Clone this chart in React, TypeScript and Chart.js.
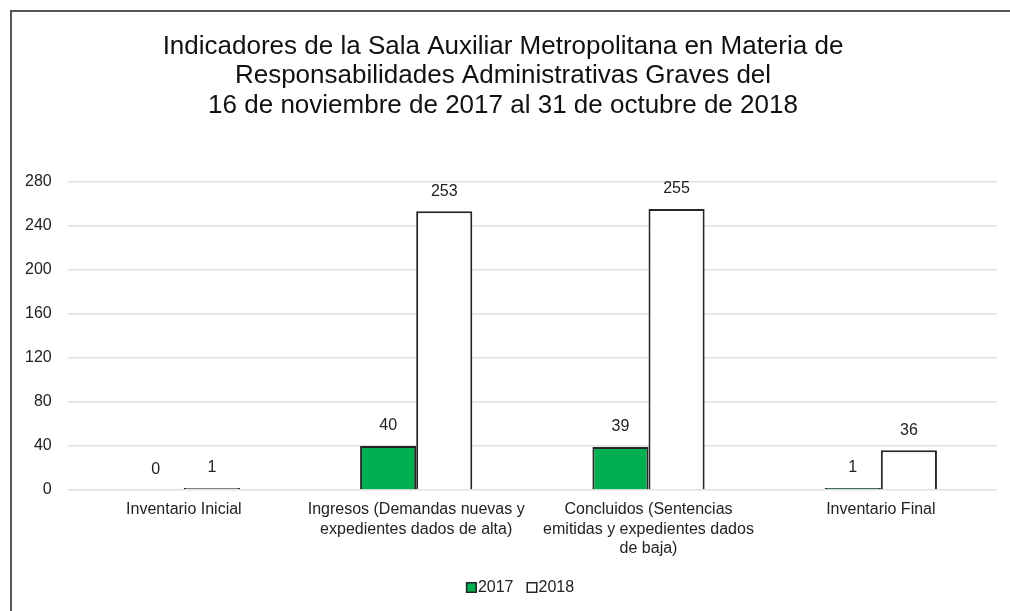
import React, { useEffect, useRef } from "react";
import { Chart, registerables } from "chart.js";

Chart.register(...registerables);

const titleLines = [
  "Indicadores de la Sala Auxiliar Metropolitana en Materia de",
  "Responsabilidades Administrativas Graves del",
  "16 de noviembre de 2017 al 31 de octubre de 2018",
];
const categories = [
  ["Inventario Inicial"],
  ["Ingresos (Demandas nuevas y", "expedientes dados de alta)"],
  ["Concluidos (Sentencias", "emitidas y expedientes dados", "de baja)"],
  ["Inventario Final"],
];
const seriesNames = ["2017", "2018"];
const values2017 = [0, 40, 39, 1];
const values2018 = [1, 253, 255, 36];
const yTicks = [0, 40, 80, 120, 160, 200, 240, 280];

const FONT = "'Liberation Sans', Arial, sans-serif";

const framePlugin = {
  id: "frame",
  beforeDraw(chart: any) {
    const ctx = chart.ctx;
    ctx.save();
    ctx.fillStyle = "#ffffff";
    ctx.fillRect(0, 0, chart.width, chart.height);
    ctx.fillStyle = "#555555";
    ctx.fillRect(10, 10, 2, chart.height - 10);
    ctx.fillRect(10, 10, chart.width - 10, 2);
    ctx.restore();
  },
};

const valueLabelPlugin = {
  id: "valueLabels",
  afterDatasetsDraw(chart: any) {
    const ctx = chart.ctx;
    const sources = [values2017, values2018];
    ctx.save();
    ctx.font = `16px ${FONT}`;
    ctx.fillStyle = "#222222";
    ctx.textAlign = "center";
    ctx.textBaseline = "middle";
    const base = chart.scales.y.getPixelForValue(0);
    chart.data.datasets.forEach((_ds: any, di: number) => {
      const meta = chart.getDatasetMeta(di);
      meta.data.forEach((bar: any, i: number) => {
        const v = sources[di][i];
        const top = v === 0 || !isFinite(bar.y) ? base : bar.y;
        ctx.fillText(String(v), bar.x, top - 20);
      });
    });
    ctx.restore();
  },
};

const customLegendPlugin = {
  id: "customLegend",
  afterDraw(chart: any) {
    const ctx = chart.ctx;
    ctx.save();
    ctx.font = `16px ${FONT}`;
    ctx.textBaseline = "middle";
    ctx.textAlign = "left";
    const ds = chart.data.datasets;
    const box = 11;
    const gapBoxText = 1;
    const gapItems = 13;
    const widths = ds.map((d: any) => ctx.measureText(d.label).width);
    let total = 0;
    widths.forEach((w: number, i: number) => {
      total += box + gapBoxText + w + (i < widths.length - 1 ? gapItems : 0);
    });
    const cy = 587.5;
    let x = 520 - total / 2;
    ds.forEach((d: any, i: number) => {
      ctx.fillStyle = d.backgroundColor;
      ctx.fillRect(x, cy - box / 2, box, box);
      ctx.strokeStyle = d.borderColor;
      ctx.lineWidth = 1.5;
      ctx.strokeRect(x + 0.75, cy - box / 2 + 0.75, box - 1.5, box - 1.5);
      ctx.fillStyle = "#222222";
      ctx.fillText(d.label, x + box + gapBoxText, cy);
      x += box + gapBoxText + widths[i] + gapItems;
    });
    ctx.restore();
  },
};

export default function App() {
  const ref = useRef<HTMLCanvasElement | null>(null);
  useEffect(() => {
    if (!ref.current) return;
    const chart = new Chart(ref.current, {
      type: "bar",
      data: {
        labels: categories as any,
        datasets: [
          {
            label: seriesNames[0],
            data: values2017.map((v) => (v === 0 ? null : v)),
            backgroundColor: "#00AF50",
            borderColor: "#262626",
            borderWidth: 2,
            minBarLength: 2,
            categoryPercentage: 0.483,
            barPercentage: 1,
          },
          {
            label: seriesNames[1],
            data: values2018.map((v) => (v === 0 ? null : v)),
            backgroundColor: "#ffffff",
            borderColor: "#262626",
            borderWidth: 2,
            minBarLength: 2,
            categoryPercentage: 0.483,
            barPercentage: 1,
          },
        ],
      },
      options: {
        animation: false,
        responsive: false,
        maintainAspectRatio: false,
        devicePixelRatio: 1,
        layout: { padding: { left: 9, right: 13, top: 0, bottom: 47 } },
        plugins: {
          title: {
            display: true,
            text: titleLines,
            color: "#111111",
            font: { family: FONT, size: 26, weight: "normal", lineHeight: 1.135 },
            padding: { top: 32, bottom: 61 },
          },
          legend: { display: false },
          tooltip: { enabled: false },
        },
        scales: {
          x: {
            grid: { display: false },
            border: { display: false },
            ticks: {
              color: "#222222",
              font: { family: FONT, size: 16, lineHeight: 1.22 },
              padding: 2,
              maxRotation: 0,
              autoSkip: false,
            },
            afterFit(scale: any) {
              scale.height = 74;
            },
          },
          y: {
            min: 0,
            max: 280,
            afterBuildTicks(scale: any) {
              scale.ticks = yTicks.map((v) => ({ value: v }));
            },
            grid: { color: "#e0e0e0", lineWidth: 1.5, drawTicks: false },
            border: { display: false },
            ticks: {
              color: "#222222",
              font: { family: FONT, size: 16 },
              padding: 16,
            },
          },
        },
      },
      plugins: [framePlugin, valueLabelPlugin, customLegendPlugin],
    });
    return () => chart.destroy();
  }, []);
  return (
    <div style={{ position: "absolute", left: 0, top: 0, width: 1010, height: 611 }}>
      <canvas ref={ref} width={1010} height={611} style={{ width: 1010, height: 611 }} />
    </div>
  );
}
